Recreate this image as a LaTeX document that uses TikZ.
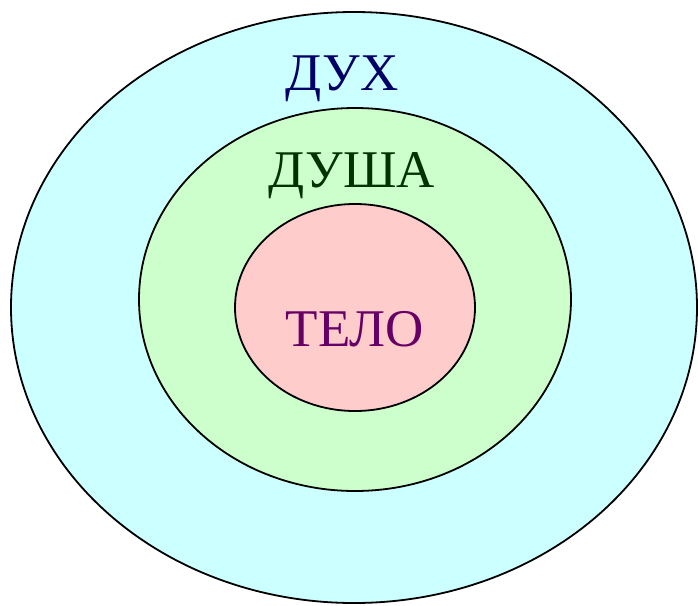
\documentclass[tikz,border=0pt]{standalone}
\usepackage{fontspec}
\setmainfont{Liberation Serif}
\definecolor{spiritfill}{HTML}{CCFFFF}
\definecolor{soulfill}{HTML}{CCFFCC}
\definecolor{bodyfill}{HTML}{FFCCCC}
\definecolor{spirittext}{HTML}{000066}
\definecolor{soultext}{HTML}{003300}
\definecolor{bodytext}{HTML}{660066}
\tikzset{
  layer/.style={draw=black, line width=1.8pt},
  lbl/.style={font=\fontsize{53}{60}\selectfont, inner sep=0pt, anchor=base}
}
\begin{document}
\begin{tikzpicture}[x=1pt,y=-1pt]
\useasboundingbox (0,0) rectangle (698,605);
\path[layer, fill=spiritfill] (354,307.5) ellipse [x radius=343, y radius=295.5];
\path[layer, fill=soulfill] (355,299.5) ellipse [x radius=216, y radius=191.5];
\path[layer, fill=bodyfill] (355,307.5) ellipse [x radius=120, y radius=103.5];
\node[lbl, text=spirittext] (spirit) at (342,90) {ДУХ};
\node[lbl, text=soultext] (soul) at (352,187) {ДУША};
\node[lbl, text=bodytext] (body) at (355,346) {ТЕЛО};
\end{tikzpicture}
\end{document}
